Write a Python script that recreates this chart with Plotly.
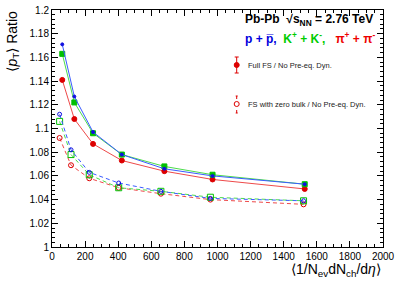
import plotly.graph_objects as go

# Data
x_full = [62, 135, 248, 422, 679, 970, 1527]
x_zero = [46, 115, 225, 403, 658, 957, 1520]

full_p = [1.171, 1.127, 1.097, 1.078, 1.066, 1.060, 1.053]
full_k = [1.163, 1.122, 1.096, 1.078, 1.068, 1.061, 1.053]
full_pi = [1.141, 1.108, 1.087, 1.073, 1.064, 1.057, 1.049]

zero_p = [1.112, 1.082, 1.063, 1.054, 1.047, 1.041, 1.039]
zero_k = [1.106, 1.078, 1.061, 1.050, 1.047, 1.042, 1.039]
zero_pi = [1.092, 1.069, 1.058, 1.050, 1.045, 1.040, 1.036]

x_ticks = [0, 200, 400, 600, 800, 1000, 1200, 1400, 1600, 1800, 2000]

BLUE_M, BLUE_L = "#1010e0", "#3a5cff"
GREEN_M, GREEN_L = "#00c000", "#4cdc4c"
RED_M, RED_L = "#dd0000", "#ee4a4a"

fig = go.Figure()

def add(x, y, lc, mc, symbol, size, dash):
    fig.add_trace(go.Scatter(
        x=x, y=y, mode="lines+markers",
        line=dict(color=lc, width=1, dash=dash),
        marker=dict(color=mc, symbol=symbol, size=size,
                    line=dict(color=mc, width=1)),
        showlegend=False))

DASH = "4px,3px"
add(x_zero, zero_pi, RED_L, RED_M, "circle-open", 5, DASH)
add(x_zero, zero_k, GREEN_L, GREEN_M, "square-open", 6, DASH)
add(x_zero, zero_p, BLUE_L, BLUE_M, "circle-open", 4, DASH)
add(x_full, full_pi, RED_L, RED_M, "circle", 5, "solid")
add(x_full, full_k, GREEN_L, GREEN_M, "square", 5, "solid")
add(x_full, full_p, BLUE_L, BLUE_M, "circle", 3, "solid")

L, R, T, B = 52, 12, 10, 38
W, H = 395, 285
pw, ph = W - L - R, H - T - B

def px(x):
    return (x - L) / pw

def py(y):
    return (H - B - y) / ph

axfont = dict(family="Liberation Sans, Arial, sans-serif", size=10, color="black")
fig.update_xaxes(range=[0, 2000], tickvals=x_ticks, ticks="inside", ticklen=6,
                 tickcolor="black", showline=True, linecolor="black", linewidth=1,
                 mirror="allticks", showgrid=False, zeroline=False, tickfont=axfont,
                 automargin=False,
                 minor=dict(dtick=50, ticks="inside", ticklen=3, tickcolor="black", showgrid=False))
fig.update_yaxes(range=[1.0, 1.2], dtick=0.02, ticks="inside", ticklen=6,
                 tickcolor="black", showline=True, linecolor="black", linewidth=1,
                 mirror="allticks", showgrid=False, zeroline=False, tickfont=axfont,
                 automargin=False,
                 minor=dict(dtick=0.004, ticks="inside", ticklen=3, tickcolor="black", showgrid=False))

font = "Liberation Sans, Arial, sans-serif"
ann = []
ann.append(dict(x=px(383), y=py(270), xref="paper", yref="paper", xanchor="right", yanchor="middle",
                text="⟨1/N<sub>ev</sub>dN<sub>ch</sub>/d<i>η</i>⟩", showarrow=False,
                font=dict(family=font, size=14, color="black")))
ann.append(dict(x=px(12), y=py(9), xref="paper", yref="paper", xanchor="center", yanchor="top",
                text="⟨<i>p</i><sub>T</sub>⟩ Ratio", textangle=-90, showarrow=False,
                font=dict(family=font, size=14, color="black")))
ann.append(dict(x=px(243), y=py(20), xref="paper", yref="paper", xanchor="left", yanchor="middle",
                text="<b>Pb-Pb  √s<sub>NN</sub> = 2.76 TeV</b>", showarrow=False,
                font=dict(family=font, size=12, color="black")))
ann.append(dict(x=px(243), y=py(38), xref="paper", yref="paper", xanchor="left", yanchor="middle",
                text="<b><span style='color:#0000dd'>p + p\u0305,</span>  <span style='color:#00cc00'>K<sup>+</sup> + K<sup>-</sup>,</span>   <span style='color:#ee0000'>π<sup>+</sup> + π<sup>-</sup></span></b>",
                showarrow=False, font=dict(family=font, size=12, color="black")))
ann.append(dict(x=px(246), y=py(65), xref="paper", yref="paper", xanchor="left", yanchor="middle",
                text="Full FS / No Pre-eq. Dyn.", showarrow=False,
                font=dict(family=font, size=7.5, color="#222")))
ann.append(dict(x=px(246), y=py(104), xref="paper", yref="paper", xanchor="left", yanchor="middle",
                text="FS with zero bulk / No Pre-eq. Dyn.", showarrow=False,
                font=dict(family=font, size=7.5, color="#222")))

shapes = []
lx = 236.7
def seg(x0, y0, x1, y1):
    shapes.append(dict(type="line", xref="paper", yref="paper", x0=px(x0), y0=py(y0), x1=px(x1), y1=py(y1),
                       line=dict(color=RED_M, width=1)))
seg(lx, 57, lx, 73)
seg(lx - 2, 57, lx + 2, 57)
seg(lx - 2, 73, lx + 2, 73)
shapes.append(dict(type="circle", xref="paper", yref="paper", x0=px(lx - 2.5), x1=px(lx + 2.5),
                   y0=py(67.5), y1=py(62.5), fillcolor=RED_M, line=dict(color=RED_M, width=1)))
seg(lx, 96, lx, 99)
seg(lx, 110, lx, 113)
seg(lx - 1, 96, lx + 1, 96)
seg(lx - 1, 113, lx + 1, 113)
shapes.append(dict(type="circle", xref="paper", yref="paper", x0=px(lx - 2.5), x1=px(lx + 2.5),
                   y0=py(106.5), y1=py(101.5), fillcolor="white", line=dict(color=RED_M, width=1)))

fig.update_layout(width=W, height=H, margin=dict(l=L, r=R, t=T, b=B, autoexpand=False),
                  plot_bgcolor="white", paper_bgcolor="white",
                  annotations=ann, shapes=shapes, showlegend=False)

fig.write_html("out.html", config={"displayModeBar": False},
               post_script="document.body.style.margin='0px';")
